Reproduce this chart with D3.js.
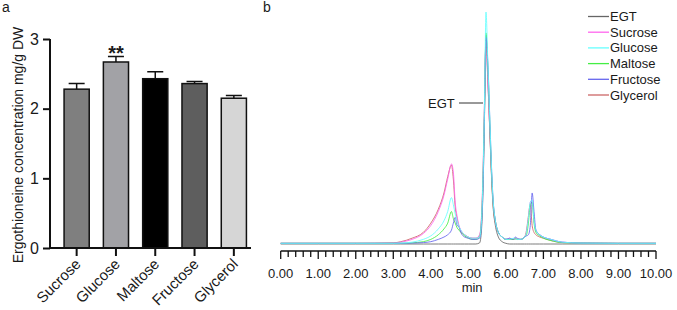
<!DOCTYPE html>
<html><head><meta charset="utf-8">
<script src="https://cdn.jsdelivr.net/npm/d3@7"></script>
<style>body{margin:0;background:#fff}svg{display:block;font-family:"Liberation Sans",Arial,sans-serif}</style>
</head><body><svg id="c" width="677" height="310"></svg>
<script>
// ---- Panel a data ----
const categories = ["Sucrose","Glucose","Maltose","Fructose","Glycerol"];
const barValues = [2.28, 2.67, 2.43, 2.36, 2.15];
const barErrors = [0.08, 0.08, 0.10, 0.03, 0.04];
const barColors = ["#7f7f7f","#a2a2a6","#000000","#5e5e5e","#d6d6d6"];
const yTicksA = [0,1,2,3];

// ---- Panel b data (chromatogram, relative intensity) ----
const seriesNames = ["EGT","Sucrose","Glucose","Maltose","Fructose","Glycerol"];
const seriesColors = ["#666666","#ff66ee","#66ffff","#44ee44","#6666ee","#cc6666"];
const times = [0,1,2,3,3.2,3.5,3.8,4.0,4.2,4.35,4.45,4.55,4.6,4.65,4.7,4.75,4.8,4.9,5.0,5.1,5.2,5.3,5.35,5.4,5.43,5.47,5.52,5.58,5.62,5.66,5.72,5.8,5.9,6.0,6.1,6.2,6.25,6.3,6.4,6.5,6.55,6.6,6.65,6.7,6.75,6.8,6.9,7.0,7.2,7.5,8,9,10];
const egt      = [0,0,0,0,0,0,0,0,0,0,0,0,0,0,0,0,0,0,0,0,0,0.5,6,30,55,90,72,45,28,16,8,3,1,0.3,0,0,0,0,0,0,0,0,0,0,0,0,0,0,0,0,0,0,0];
const sucrose  = [0.3,0.3,0.3,0.4,0.8,2,4.5,8,14,21,28,34.5,31,18,12,8,6,4,3,2.5,2.5,4,12,38,62,89,70,46,30,18,10,5,3,2,2.5,2,2.5,2,2,3,5,11,18,19,10,6,4,3,2,0.8,0.4,0.3,0.3];
const glucose  = [0.3,0.3,0.3,0.3,0.4,0.8,2,3.5,6.5,10,14,20,17,13,10,7.5,6,4,3,2.5,2.5,3,10,35,60,100,78,50,32,19,10,5,3,2,2,2.5,2,2,2,3,5,11,18,19,10,6,4,3,2,0.8,0.4,0.3,0.3];
const maltose  = [0.3,0.3,0.3,0.3,0.3,0.5,1,2,4,6.5,9,14,11,9,7,6,5,3.5,2.5,2,2,3,10,34,58,91,76,48,30,18,10,5,3,2,2,2,2.5,2,2,3,4,9,17,18,9,5,3.5,2.5,1.5,0.6,0.4,0.3,0.3];
const fructose = [0.3,0.3,0.3,0.3,0.3,0.4,0.6,1,2,3,4,6,9,11.5,8,7.5,5,3,2.5,2,2,2.5,8,30,55,89,78,50,32,19,10,5,3,2,2.5,2,3,2.5,2,3,3.5,4,8,22,14,6,4,3,2,0.8,0.4,0.3,0.3];
const glycerol = [0.3,0.3,0.3,0.5,1,2.5,5,9,15,22,29,34,28,16,11,7.5,5.5,4,3,2.5,2.5,3.5,11,36,60,87,70,45,29,17,9,5,3,2,2,2,2,2,2,3,6,12,17,8,5,4,3,2.5,1.5,0.6,0.4,0.3,0.3];
const seriesValues = [egt, sucrose, glucose, maltose, fructose, glycerol];
const xTicksB = [0,1,2,3,4,5,6,7,8,9,10];

const svg = d3.select("#c");
const txt = "#1a1a1a";

// ===== Panel a =====
const x = d3.scaleBand().domain(categories).range([57, 253.5]).paddingInner(0.36).paddingOuter(0.18);
const y = d3.scaleLinear().domain([0,3]).range([248, 39]);

svg.append("text").attr("x",2).attr("y",12).attr("font-size",14).attr("fill",txt).text("a");

const ga = svg.append("g");
ga.selectAll("rect.bar").data(categories).join("rect")
  .attr("x", d => x(d)).attr("width", x.bandwidth())
  .attr("y", (d,i) => y(barValues[i])).attr("height", (d,i) => y(0) - y(barValues[i]))
  .attr("fill", (d,i) => barColors[i]).attr("stroke","#111").attr("stroke-width",1.5);
// error bars
ga.selectAll("path.err").data(categories).join("path")
  .attr("d", (d,i) => {
    const cx = x(d) + x.bandwidth()/2, top = y(barValues[i] + barErrors[i]), b = y(barValues[i]);
    return `M${cx},${b}V${top}M${cx-8},${top}H${cx+8}`;
  }).attr("stroke","#111").attr("stroke-width",1.5).attr("fill","none");
// significance
svg.append("text").attr("x", x("Glucose")+x.bandwidth()/2).attr("y",60).attr("text-anchor","middle")
  .attr("font-size",20).attr("font-weight","bold").attr("fill",txt).text("**");

// y axis
const yAxis = d3.axisLeft(y).tickValues(yTicksA).tickFormat(d3.format("d")).tickSize(7).tickPadding(4);
const gy = svg.append("g").attr("transform","translate(50,0)").call(yAxis);
gy.select(".domain").attr("d", `M0,${y(3)}V${y(0)+1}`).attr("stroke","#111").attr("stroke-width",2);
gy.selectAll(".tick line").attr("stroke","#111").attr("stroke-width",2);
gy.selectAll(".tick text").attr("font-size",16).attr("fill",txt).attr("font-family","Liberation Sans, Arial, sans-serif");

// x axis
const xAxis = d3.axisBottom(x).tickSize(8).tickSizeOuter(0);
const gx = svg.append("g").attr("transform","translate(0,248)").call(xAxis);
gx.select(".domain").attr("d","M49,0H251").attr("stroke","#111").attr("stroke-width",2);
gx.selectAll(".tick line").attr("stroke","#111").attr("stroke-width",2);
gx.selectAll(".tick text").attr("font-size",15).attr("fill",txt).attr("font-family","Liberation Sans, Arial, sans-serif")
  .attr("text-anchor","end").attr("dy",0).attr("y",0)
  .attr("transform","translate(5,17) rotate(-45)");

svg.append("text").attr("transform","translate(23,145) rotate(-90)").attr("text-anchor","middle")
  .attr("font-size",14).attr("fill",txt).text("Ergothioneine concentration mg/g DW");

// ===== Panel b =====
svg.append("text").attr("x",263).attr("y",12).attr("font-size",14).attr("fill",txt).text("b");

const xb = d3.scaleLinear().domain([0,10]).range([280.7, 656]);
const yb = d3.scaleLinear().domain([0,100]).range([244, 12]);

const line = d3.line().x((d,i) => xb(times[i])).y(d => yb(d)).curve(d3.curveMonotoneX);
const order = [0,5,1,3,4,2];
svg.append("g").selectAll("path").data(order).join("path")
  .attr("d", k => line(seriesValues[k])).attr("fill","none")
  .attr("stroke", k => seriesColors[k]).attr("stroke-width",1).attr("stroke-opacity",0.85);

// axis with minor ticks
const gxb = svg.append("g").attr("transform","translate(0,251)");
const minor = d3.range(0, 50.5, 1).map(d => d/5);
gxb.append("path").attr("d",`M${xb(0)},0H${xb(10)}`).attr("stroke","#111").attr("stroke-width",1.5);
gxb.selectAll("line").data(minor).join("line")
  .attr("x1", d => xb(d)).attr("x2", d => xb(d)).attr("y1",0)
  .attr("y2", d => Math.abs(d - Math.round(d)) < 1e-6 ? 8 : 6)
  .attr("stroke","#111").attr("stroke-width",1.3);
gxb.selectAll("text").data(xTicksB).join("text")
  .attr("x", d => xb(d)).attr("y",27).attr("text-anchor","middle")
  .attr("font-size",13).attr("fill",txt).text(d => d.toFixed(2));
svg.append("text").attr("x", xb(5.1)).attr("y",292).attr("text-anchor","middle")
  .attr("font-size",13).attr("fill",txt).text("min");

// EGT annotation
svg.append("text").attr("x",428).attr("y",108).attr("font-size",13).attr("fill",txt).text("EGT");
svg.append("line").attr("x1",459).attr("x2",483).attr("y1",103).attr("y2",103).attr("stroke","#333").attr("stroke-width",1);

// legend
const lg = svg.append("g");
const rowY = d3.scaleLinear().domain([0,5]).range([16.5, 95]);
seriesNames.forEach((n,i) => {
  lg.append("line").attr("x1",588).attr("x2",609).attr("y1",rowY(i)).attr("y2",rowY(i))
    .attr("stroke",seriesColors[i]).attr("stroke-width",1.3);
  lg.append("text").attr("x",610).attr("y",rowY(i)+4.5).attr("font-size",13).attr("fill",txt).text(n);
});
</script></body></html>
